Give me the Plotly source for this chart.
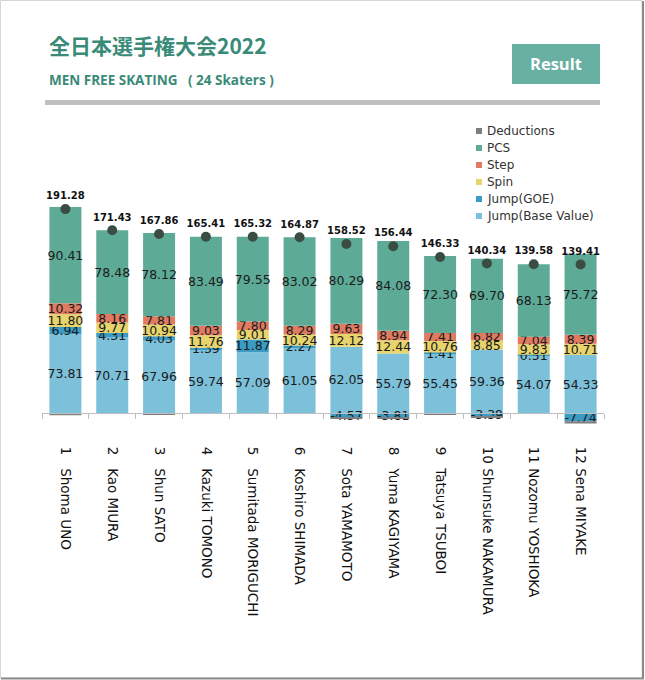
import plotly.graph_objects as go

# ---------------- data ----------------
skaters = ["Shoma UNO", "Kao MIURA", "Shun SATO", "Kazuki TOMONO", "Sumitada MORIGUCHI",
           "Koshiro SHIMADA", "Sota YAMAMOTO", "Yuma KAGIYAMA", "Tatsuya TSUBOI",
           "Shunsuke NAKAMURA", "Nozomu YOSHIOKA", "Sena MIYAKE"]
ranks = [1, 2, 3, 4, 5, 6, 7, 8, 9, 10, 11, 12]
jump_base = [73.81, 70.71, 67.96, 59.74, 57.09, 61.05, 62.05, 55.79, 55.45, 59.36, 54.07, 54.33]
jump_goe = [6.94, 4.31, 4.03, 1.39, 11.87, 2.27, -4.57, -3.81, 1.41, -3.39, 0.51, -7.74]
spin = [11.80, 9.77, 10.94, 11.76, 9.01, 10.24, 12.12, 12.44, 10.76, 8.85, 9.83, 10.71]
step = [10.32, 8.16, 7.81, 9.03, 7.80, 8.29, 9.63, 8.94, 7.41, 6.82, 7.04, 8.39]
pcs = [90.41, 78.48, 78.12, 83.49, 79.55, 83.02, 80.29, 84.08, 72.30, 69.70, 68.13, 75.72]
deductions = [-2, 0, -1, 0, 0, 0, -1, -1, -1, -1, 0, -2]
totals = [191.28, 171.43, 167.86, 165.41, 165.32, 164.87, 158.52, 156.44, 146.33, 140.34, 139.58, 139.41]
legend_order = ["Deductions", "PCS", "Step", "Spin", "Jump(GOE)", "Jump(Base Value)"]

NB = "\u00a0"
labels = [f"{r}{NB * (3 if r < 10 else 1)}{n}" for r, n in zip(ranks, skaters)]

# ---------------- layout geometry ----------------
W, H = 645, 680
ML, MR, MT, MB = 42, 41, 110, 245
PW, PH = W - ML - MR, H - MT - MB
ZERO_PX = 413
SCALE = 1.066  # px per point
y_min = -(H - MB - ZERO_PX) / SCALE
y_max = (ZERO_PX - MT) / SCALE
axis_pos = (H - MB - ZERO_PX) / PH


def px(x):
    return (x - ML) / PW


def py(y):
    return (H - MB - y) / PH


TXT = dict(family="DejaVu Sans", size=12.5, color="#1b1b1b")

colors = {
    "Jump(Base Value)": "#7cc0da",
    "Jump(GOE)": "#3a9cc5",
    "Spin": "#e8d46d",
    "Step": "#e07b62",
    "PCS": "#5daa97",
    "Deductions": "#7f7f7f",
}
series = [
    ("Jump(Base Value)", jump_base, True),
    ("Jump(GOE)", jump_goe, True),
    ("Spin", spin, True),
    ("Step", step, True),
    ("PCS", pcs, True),
    ("Deductions", deductions, False),
]

fig = go.Figure()
for name, vals, show_text in series:
    fig.add_trace(go.Bar(
        x=labels, y=vals, name=name, showlegend=False,
        marker=dict(color=colors[name], line=dict(width=0)),
        texttemplate="%{y:.2f}" if show_text else None,
        textposition="inside" if show_text else "none",
        insidetextanchor="middle", textangle=0, textfont=TXT,
        hoverinfo="x+y+name",
    ))

fig.add_trace(go.Scatter(
    x=labels, y=totals, mode="markers+text", showlegend=False, name="Total",
    marker=dict(color="#3b4d43", size=10),
    text=[f"<b>{t:.2f}</b>" for t in totals], textposition="top center",
    textfont=dict(family="DejaVu Sans", size=10, color="#111111"),
))

shapes = [
    # header separator
    dict(type="rect", xref="paper", yref="paper", x0=px(45), x1=px(600), y0=py(105), y1=py(100),
         fillcolor="#c0c0c0", line=dict(width=0), layer="above"),
    # result button
    dict(type="rect", xref="paper", yref="paper", x0=px(512), x1=px(600), y0=py(84), y1=py(44),
         fillcolor="#68b0a2", line=dict(width=0)),
    # outer frame
    dict(type="rect", xref="paper", yref="paper", x0=px(0.5), x1=px(642), y0=py(678), y1=py(0.5),
         line=dict(color="#d6d6d6", width=1)),
    dict(type="line", xref="paper", yref="paper", x0=px(643), x1=px(643), y0=py(679), y1=py(1),
         line=dict(color="#8a8a8a", width=2)),
    dict(type="line", xref="paper", yref="paper", x0=px(1), x1=px(644), y0=py(678.5), y1=py(678.5),
         line=dict(color="#8a8a8a", width=2)),
]

annotations = [
    dict(text="<b>全日本選手権大会2022</b>", xref="paper", yref="paper", x=px(47), y=py(45),
         xanchor="left", yanchor="middle", showarrow=False,
         font=dict(family="Noto Sans CJK JP", size=21, color="#3a8a78")),
    dict(text="<b>MEN FREE SKATING\u00a0\u00a0\u00a0( 24 Skaters )</b>", xref="paper", yref="paper",
         x=px(47), y=py(80), xanchor="left", yanchor="middle", showarrow=False,
         font=dict(family="Open Sans", size=13.5, color="#3a8a78")),
    dict(text="<b>Result</b>", xref="paper", yref="paper", x=px(556), y=py(64),
         xanchor="center", yanchor="middle", showarrow=False,
         font=dict(family="Open Sans", size=16.5, color="white")),
]

# custom legend (compact rows like the reference)
LEG_X, LEG_Y0, LEG_DY = 476, 131, 17
for i, name in enumerate(legend_order):
    yc = LEG_Y0 + i * LEG_DY
    shapes.append(dict(type="rect", xref="paper", yref="paper",
                       x0=px(LEG_X), x1=px(LEG_X + 6), y0=py(yc + 3), y1=py(yc - 3),
                       fillcolor=colors[name], line=dict(width=0)))
    annotations.append(dict(text=name, xref="paper", yref="paper", x=px(LEG_X + 9), y=py(yc),
                            xanchor="left", yanchor="middle", showarrow=False,
                            font=dict(family="DejaVu Sans", size=12, color="#333333")))

fig.update_layout(
    width=W, height=H, margin=dict(l=ML, r=MR, t=MT, b=MB, pad=0),
    paper_bgcolor="white", plot_bgcolor="white",
    barmode="relative", bargap=0.317,
    uniformtext=dict(minsize=12.5, mode="show"),
    xaxis=dict(type="category", anchor="free", position=axis_pos, range=[-0.5, 11.5],
               showline=True, linecolor="#bfbfbf", linewidth=1,
               ticks="outside", ticklen=5, tickcolor="#bfbfbf", tickson="boundaries",
               tickangle=90, ticklabelstandoff=30,
               tickfont=dict(family="DejaVu Sans", size=13.5, color="#111111"),
               showgrid=False, zeroline=False),
    yaxis=dict(visible=False, range=[y_min, y_max], showgrid=False, zeroline=False),
    shapes=shapes, annotations=annotations, showlegend=False,
)

fig.write_html(
    "out.html",
    config={"displayModeBar": False},
    post_script="document.body.style.margin='0px';document.body.style.padding='0px';",
)
